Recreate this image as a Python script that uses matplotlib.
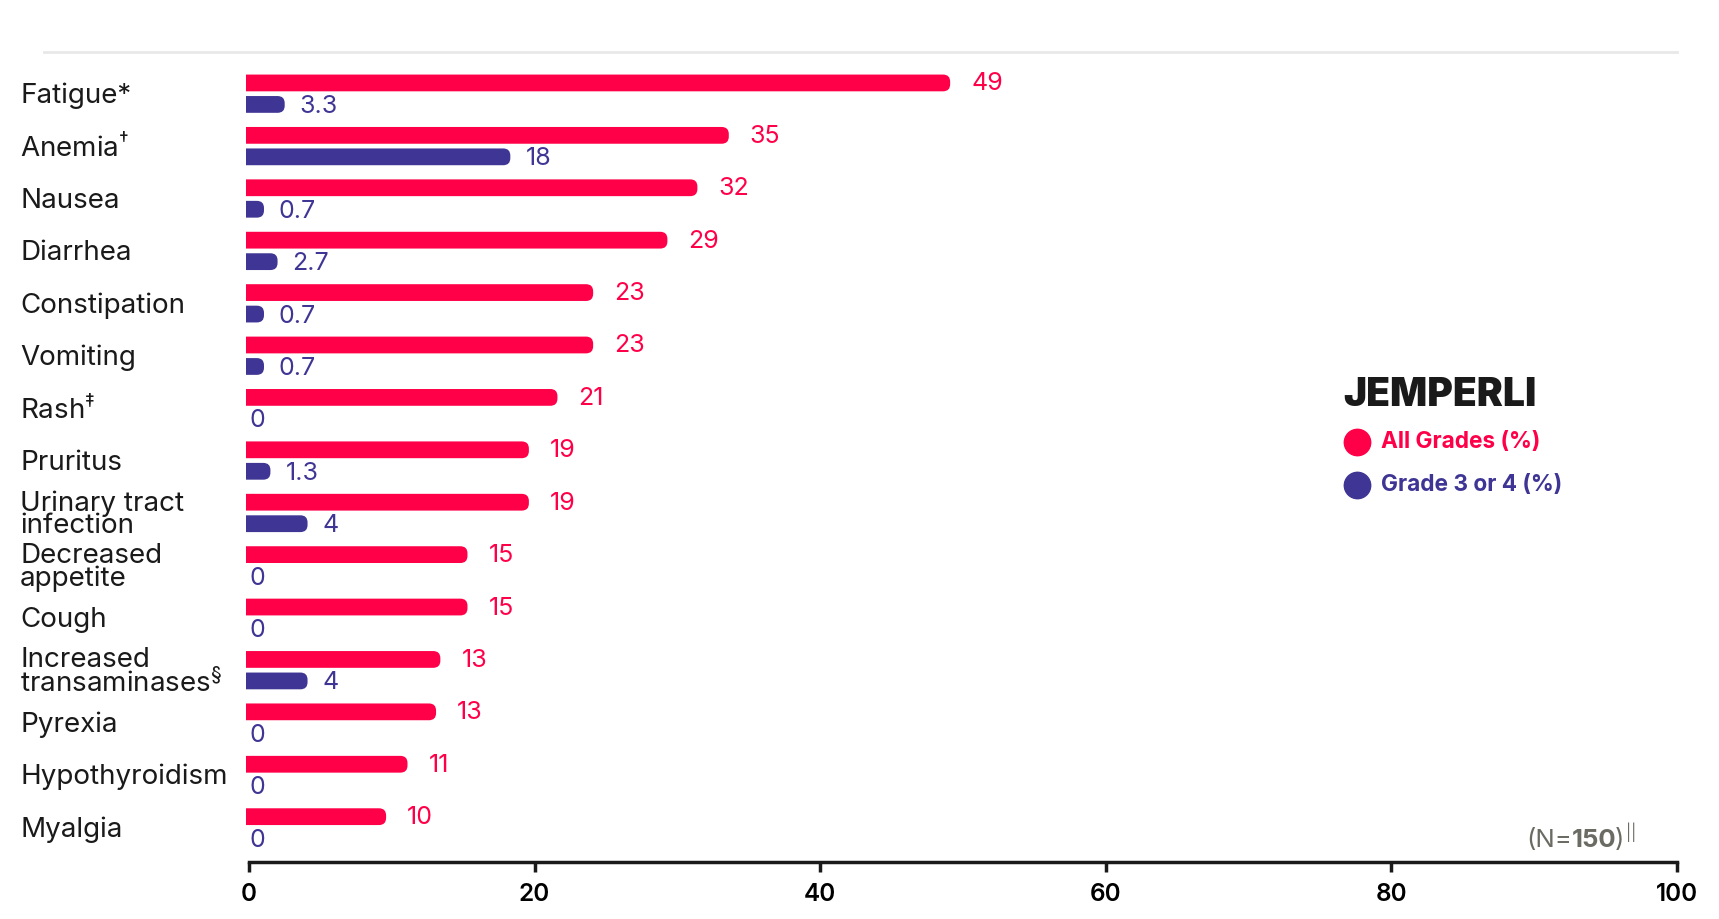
import matplotlib
matplotlib.use("Agg")
import matplotlib.pyplot as plt
from matplotlib.patches import FancyBboxPatch
from matplotlib.transforms import blended_transform_factory

plt.rcParams['font.family'] = ['Inter', 'DejaVu Sans']
plt.rcParams['mathtext.fontset'] = 'custom'
plt.rcParams['mathtext.rm'] = 'Inter'
plt.rcParams['mathtext.bf'] = 'Inter:bold'

# data
categories = ["Fatigue*", "Anemia$^†$", "Nausea", "Diarrhea", "Constipation", "Vomiting",
              "Rash$^‡$", "Pruritus", "Urinary tract\ninfection", "Decreased\nappetite",
              "Cough", "Increased\ntransaminases$^§$", "Pyrexia", "Hypothyroidism", "Myalgia"]
# bar lengths as drawn in the picture
all_grades = [49.1, 33.6, 31.4, 29.3, 24.1, 24.1, 21.6, 19.6, 19.6, 15.3, 15.3, 13.4, 13.1, 11.1, 9.6]
grade_34 = [2.5, 18.3, 1.05, 2.0, 1.05, 1.05, 0, 1.5, 4.1, 0, 0, 4.1, 0, 0, 0]
# printed labels
all_labels = ["49", "35", "32", "29", "23", "23", "21", "19", "19", "15", "15", "13", "13", "11", "10"]
grade_34_labels = ["3.3", "18", "0.7", "2.7", "0.7", "0.7", "0", "1.3", "4", "0", "0", "4", "0", "0", "0"]
xticks = [0, 20, 40, 60, 80, 100]

red = "#FF0048"
blue = "#3F3594"

fig = plt.figure(figsize=(17.19, 9.19), dpi=100)
ax = fig.add_axes([246 / 1719, 57 / 919, 1431 / 1719, 805 / 919])
x0 = -3 / 14.28
ax.set_xlim(x0, 100)
ax.set_ylim(14.66, -0.7)

bar_h = 0.32
off = 0.205
aspect = 14.28 / 52.4


def rbar(x, y, color):
    if x <= 0:
        return
    p = FancyBboxPatch((-1, y - bar_h / 2), x + 1, bar_h,
                       boxstyle="round,pad=0,rounding_size=0.5",
                       mutation_aspect=aspect, fc=color, ec="none")
    ax.add_patch(p)


for i, (a, g) in enumerate(zip(all_grades, grade_34)):
    rbar(a, i - off, red)
    rbar(g, i + off, blue)
    ax.annotate(all_labels[i], (a, i - off), xytext=(21, -1), textcoords="offset pixels",
                ha="left", va="center", fontsize=18, color=red)
    dx = 15 if g > 0 else 0
    ax.annotate(grade_34_labels[i], (g, i + off), xytext=(dx, -2), textcoords="offset pixels",
                ha="left", va="center", fontsize=18, color=blue)

# category labels
tr = blended_transform_factory(fig.transFigure, ax.transData)
for i, c in enumerate(categories):
    ax.text(20 / 1719, i + 0.04, c, transform=tr, ha="left", va="center",
            fontsize=20, color="#1a1a1a", linespacing=0.8)

# axis styling
for s in ["top", "right", "left"]:
    ax.spines[s].set_visible(False)
ax.spines["bottom"].set_linewidth(2.5)
ax.spines["bottom"].set_color("#1a1a1a")
ax.spines["bottom"].set_bounds(0, 100)
ax.set_yticks([])
ax.set_xticks(xticks)
ax.set_xticklabels([str(t) for t in xticks], fontsize=17.5, fontweight="semibold")
ax.tick_params(axis="x", length=7, width=2.5, color="#1a1a1a", pad=8)

# top divider
fig.add_artist(plt.Line2D([44 / 1719, 1677 / 1719], [1 - 52 / 919, 1 - 52 / 919],
                          color="#e8e8e8", lw=2, transform=fig.transFigure))

# legend
fig.text(1343 / 1719, 1 - 395 / 919, "JEMPERLI", fontsize=28, fontweight=900,
         color="#1a1a1a", ha="left", va="center")
for yy, lab, col in [(442, "All Grades (%)", red), (485, "Grade 3 or 4 (%)", blue)]:
    fig.add_artist(plt.Line2D([1357 / 1719], [1 - yy / 919], marker="o", markersize=19,
                              color=col, transform=fig.transFigure))
    fig.text(1381 / 1719, 1 - yy / 919, lab, fontsize=16.3, fontweight="bold",
             color=col, ha="left", va="center")

# N=150 note
gray = "#6b6b63"
t1 = fig.text(1526 / 1719, 1 - 852 / 919, "(N=", fontsize=18.5, color=gray, ha="left", va="bottom")
t2 = ax.annotate("150", xy=(1, 0), xycoords=t1, fontsize=18.5, fontweight="bold",
                 color=gray, ha="left", va="bottom", annotation_clip=False)
t3 = ax.annotate(")", xy=(1, 0), xycoords=t2, xytext=(-1, 0), textcoords="offset points",
                 fontsize=18.5, color=gray, ha="left", va="bottom", annotation_clip=False)
ax.annotate("||", xy=(1, 0.45), xycoords=t3, xytext=(1, 0), textcoords="offset points",
            fontsize=11, color=gray, ha="left", va="bottom", annotation_clip=False)

fig.savefig("out.png", dpi=100)
